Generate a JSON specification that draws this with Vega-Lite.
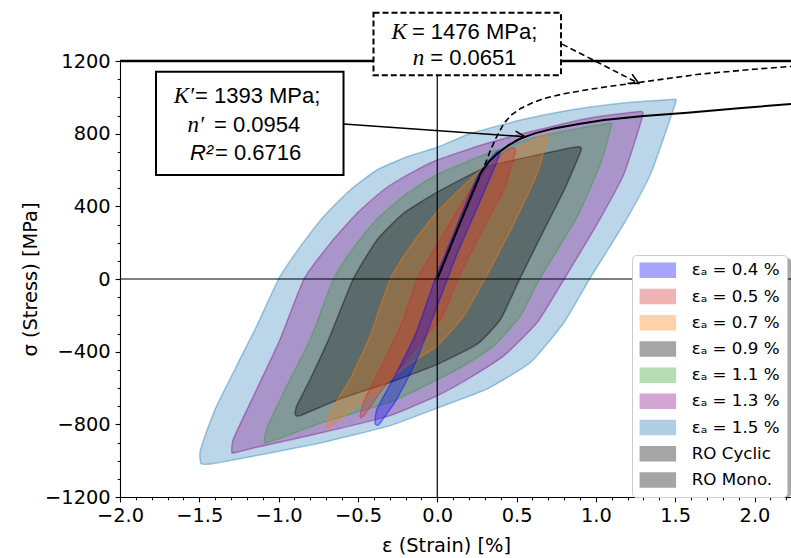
{
  "$schema": "https://vega.github.io/schema/vega-lite/v6.json",
  "width": 671,
  "height": 436,
  "autosize": {"type": "none"},
  "padding": {"left": 120, "top": 61, "right": 0, "bottom": 61},
  "background": "white",
  "datasets": {
    "loops": [
      {"e": "εₐ = 1.5 %", "i": 1, "x": -1.49, "y": -1015},
      {"e": "εₐ = 1.5 %", "i": 2, "x": -1.495, "y": -950},
      {"e": "εₐ = 1.5 %", "i": 3, "x": -1.45, "y": -830},
      {"e": "εₐ = 1.5 %", "i": 4, "x": -1.39, "y": -697},
      {"e": "εₐ = 1.5 %", "i": 5, "x": -1.264, "y": -477},
      {"e": "εₐ = 1.5 %", "i": 6, "x": -1.137, "y": -257},
      {"e": "εₐ = 1.5 %", "i": 7, "x": -1.0, "y": 0},
      {"e": "εₐ = 1.5 %", "i": 8, "x": -0.864, "y": 178},
      {"e": "εₐ = 1.5 %", "i": 9, "x": -0.717, "y": 343},
      {"e": "εₐ = 1.5 %", "i": 10, "x": -0.549, "y": 490},
      {"e": "εₐ = 1.5 %", "i": 11, "x": -0.38, "y": 600},
      {"e": "εₐ = 1.5 %", "i": 12, "x": -0.19, "y": 673},
      {"e": "εₐ = 1.5 %", "i": 13, "x": 0, "y": 725},
      {"e": "εₐ = 1.5 %", "i": 14, "x": 0.21, "y": 801},
      {"e": "εₐ = 1.5 %", "i": 15, "x": 0.526, "y": 875},
      {"e": "εₐ = 1.5 %", "i": 16, "x": 0.84, "y": 930},
      {"e": "εₐ = 1.5 %", "i": 17, "x": 1.157, "y": 967},
      {"e": "εₐ = 1.5 %", "i": 18, "x": 1.48, "y": 988},
      {"e": "εₐ = 1.5 %", "i": 19, "x": 1.50, "y": 965},
      {"e": "εₐ = 1.5 %", "i": 20, "x": 1.346, "y": 581},
      {"e": "εₐ = 1.5 %", "i": 21, "x": 1.178, "y": 306},
      {"e": "εₐ = 1.5 %", "i": 22, "x": 0.96, "y": 0},
      {"e": "εₐ = 1.5 %", "i": 23, "x": 0.80, "y": -238},
      {"e": "εₐ = 1.5 %", "i": 24, "x": 0.589, "y": -458},
      {"e": "εₐ = 1.5 %", "i": 25, "x": 0.315, "y": -605},
      {"e": "εₐ = 1.5 %", "i": 26, "x": 0, "y": -710},
      {"e": "εₐ = 1.5 %", "i": 27, "x": -0.297, "y": -807},
      {"e": "εₐ = 1.5 %", "i": 28, "x": -0.717, "y": -899},
      {"e": "εₐ = 1.5 %", "i": 29, "x": -1.137, "y": -972},
      {"e": "εₐ = 1.5 %", "i": 30, "x": -1.43, "y": -1018},

      {"e": "εₐ = 1.3 %", "i": 1, "x": -1.295, "y": -955},
      {"e": "εₐ = 1.3 %", "i": 2, "x": -1.285, "y": -880},
      {"e": "εₐ = 1.3 %", "i": 3, "x": -1.137, "y": -605},
      {"e": "εₐ = 1.3 %", "i": 4, "x": -0.99, "y": -330},
      {"e": "εₐ = 1.3 %", "i": 5, "x": -0.84, "y": 0},
      {"e": "εₐ = 1.3 %", "i": 6, "x": -0.675, "y": 196},
      {"e": "εₐ = 1.3 %", "i": 7, "x": -0.507, "y": 361},
      {"e": "εₐ = 1.3 %", "i": 8, "x": -0.339, "y": 490},
      {"e": "εₐ = 1.3 %", "i": 9, "x": -0.17, "y": 581},
      {"e": "εₐ = 1.3 %", "i": 10, "x": 0, "y": 655},
      {"e": "εₐ = 1.3 %", "i": 11, "x": 0.315, "y": 747},
      {"e": "εₐ = 1.3 %", "i": 12, "x": 0.63, "y": 820},
      {"e": "εₐ = 1.3 %", "i": 13, "x": 0.946, "y": 884},
      {"e": "εₐ = 1.3 %", "i": 14, "x": 1.262, "y": 921},
      {"e": "εₐ = 1.3 %", "i": 15, "x": 1.295, "y": 900},
      {"e": "εₐ = 1.3 %", "i": 16, "x": 1.178, "y": 581},
      {"e": "εₐ = 1.3 %", "i": 17, "x": 1.01, "y": 306},
      {"e": "εₐ = 1.3 %", "i": 18, "x": 0.80, "y": 0},
      {"e": "εₐ = 1.3 %", "i": 19, "x": 0.631, "y": -238},
      {"e": "εₐ = 1.3 %", "i": 20, "x": 0.42, "y": -422},
      {"e": "εₐ = 1.3 %", "i": 21, "x": 0.21, "y": -541},
      {"e": "εₐ = 1.3 %", "i": 22, "x": 0, "y": -642},
      {"e": "εₐ = 1.3 %", "i": 23, "x": -0.297, "y": -752},
      {"e": "εₐ = 1.3 %", "i": 24, "x": -0.717, "y": -844},
      {"e": "εₐ = 1.3 %", "i": 25, "x": -1.137, "y": -926},
      {"e": "εₐ = 1.3 %", "i": 26, "x": -1.27, "y": -955},

      {"e": "εₐ = 1.1 %", "i": 1, "x": -1.09, "y": -900},
      {"e": "εₐ = 1.1 %", "i": 2, "x": -1.075, "y": -825},
      {"e": "εₐ = 1.1 %", "i": 3, "x": -0.948, "y": -587},
      {"e": "εₐ = 1.1 %", "i": 4, "x": -0.80, "y": -330},
      {"e": "εₐ = 1.1 %", "i": 5, "x": -0.654, "y": 0},
      {"e": "εₐ = 1.1 %", "i": 6, "x": -0.53, "y": 170},
      {"e": "εₐ = 1.1 %", "i": 7, "x": -0.38, "y": 330},
      {"e": "εₐ = 1.1 %", "i": 8, "x": -0.2, "y": 465},
      {"e": "εₐ = 1.1 %", "i": 9, "x": 0, "y": 575},
      {"e": "εₐ = 1.1 %", "i": 10, "x": 0.315, "y": 691},
      {"e": "εₐ = 1.1 %", "i": 11, "x": 0.63, "y": 783},
      {"e": "εₐ = 1.1 %", "i": 12, "x": 0.946, "y": 838},
      {"e": "εₐ = 1.1 %", "i": 13, "x": 1.09, "y": 858},
      {"e": "εₐ = 1.1 %", "i": 14, "x": 1.095, "y": 835},
      {"e": "εₐ = 1.1 %", "i": 15, "x": 1.03, "y": 636},
      {"e": "εₐ = 1.1 %", "i": 16, "x": 0.883, "y": 343},
      {"e": "εₐ = 1.1 %", "i": 17, "x": 0.645, "y": 0},
      {"e": "εₐ = 1.1 %", "i": 18, "x": 0.526, "y": -202},
      {"e": "εₐ = 1.1 %", "i": 19, "x": 0.358, "y": -367},
      {"e": "εₐ = 1.1 %", "i": 20, "x": 0.168, "y": -477},
      {"e": "εₐ = 1.1 %", "i": 21, "x": 0, "y": -555},
      {"e": "εₐ = 1.1 %", "i": 22, "x": -0.297, "y": -678},
      {"e": "εₐ = 1.1 %", "i": 23, "x": -0.717, "y": -788},
      {"e": "εₐ = 1.1 %", "i": 24, "x": -1.0, "y": -880},
      {"e": "εₐ = 1.1 %", "i": 25, "x": -1.075, "y": -900},

      {"e": "εₐ = 0.9 %", "i": 1, "x": -0.896, "y": -745},
      {"e": "εₐ = 0.9 %", "i": 2, "x": -0.885, "y": -697},
      {"e": "εₐ = 0.9 %", "i": 3, "x": -0.80, "y": -550},
      {"e": "εₐ = 0.9 %", "i": 4, "x": -0.675, "y": -312},
      {"e": "εₐ = 0.9 %", "i": 5, "x": -0.53, "y": 0},
      {"e": "εₐ = 0.9 %", "i": 6, "x": -0.38, "y": 215},
      {"e": "εₐ = 0.9 %", "i": 7, "x": -0.213, "y": 361},
      {"e": "εₐ = 0.9 %", "i": 8, "x": 0, "y": 478},
      {"e": "εₐ = 0.9 %", "i": 9, "x": 0.315, "y": 618},
      {"e": "εₐ = 0.9 %", "i": 10, "x": 0.63, "y": 682},
      {"e": "εₐ = 0.9 %", "i": 11, "x": 0.883, "y": 728},
      {"e": "εₐ = 0.9 %", "i": 12, "x": 0.905, "y": 705},
      {"e": "εₐ = 0.9 %", "i": 13, "x": 0.80, "y": 490},
      {"e": "εₐ = 0.9 %", "i": 14, "x": 0.673, "y": 270},
      {"e": "εₐ = 0.9 %", "i": 15, "x": 0.52, "y": 0},
      {"e": "εₐ = 0.9 %", "i": 16, "x": 0.40, "y": -220},
      {"e": "εₐ = 0.9 %", "i": 17, "x": 0.252, "y": -358},
      {"e": "εₐ = 0.9 %", "i": 18, "x": 0, "y": -470},
      {"e": "εₐ = 0.9 %", "i": 19, "x": -0.297, "y": -568},
      {"e": "εₐ = 0.9 %", "i": 20, "x": -0.612, "y": -660},
      {"e": "εₐ = 0.9 %", "i": 21, "x": -0.864, "y": -752},

      {"e": "εₐ = 0.7 %", "i": 1, "x": -0.70, "y": -816},
      {"e": "εₐ = 0.7 %", "i": 2, "x": -0.675, "y": -733},
      {"e": "εₐ = 0.7 %", "i": 3, "x": -0.549, "y": -550},
      {"e": "εₐ = 0.7 %", "i": 4, "x": -0.423, "y": -312},
      {"e": "εₐ = 0.7 %", "i": 5, "x": -0.297, "y": 0},
      {"e": "εₐ = 0.7 %", "i": 6, "x": -0.17, "y": 178},
      {"e": "εₐ = 0.7 %", "i": 7, "x": 0, "y": 370},
      {"e": "εₐ = 0.7 %", "i": 8, "x": 0.273, "y": 600},
      {"e": "εₐ = 0.7 %", "i": 9, "x": 0.526, "y": 728},
      {"e": "εₐ = 0.7 %", "i": 10, "x": 0.673, "y": 792},
      {"e": "εₐ = 0.7 %", "i": 11, "x": 0.705, "y": 783},
      {"e": "εₐ = 0.7 %", "i": 12, "x": 0.694, "y": 765},
      {"e": "εₐ = 0.7 %", "i": 13, "x": 0.63, "y": 581},
      {"e": "εₐ = 0.7 %", "i": 14, "x": 0.484, "y": 306},
      {"e": "εₐ = 0.7 %", "i": 15, "x": 0.30, "y": 0},
      {"e": "εₐ = 0.7 %", "i": 16, "x": 0.168, "y": -202},
      {"e": "εₐ = 0.7 %", "i": 17, "x": 0, "y": -367},
      {"e": "εₐ = 0.7 %", "i": 18, "x": -0.19, "y": -477},
      {"e": "εₐ = 0.7 %", "i": 19, "x": -0.40, "y": -623},
      {"e": "εₐ = 0.7 %", "i": 20, "x": -0.612, "y": -770},
      {"e": "εₐ = 0.7 %", "i": 21, "x": -0.68, "y": -815},

      {"e": "εₐ = 0.5 %", "i": 1, "x": -0.486, "y": -761},
      {"e": "εₐ = 0.5 %", "i": 2, "x": -0.465, "y": -678},
      {"e": "εₐ = 0.5 %", "i": 3, "x": -0.339, "y": -458},
      {"e": "εₐ = 0.5 %", "i": 4, "x": -0.213, "y": -220},
      {"e": "εₐ = 0.5 %", "i": 5, "x": -0.128, "y": 0},
      {"e": "εₐ = 0.5 %", "i": 6, "x": 0, "y": 190},
      {"e": "εₐ = 0.5 %", "i": 7, "x": 0.21, "y": 490},
      {"e": "εₐ = 0.5 %", "i": 8, "x": 0.379, "y": 673},
      {"e": "εₐ = 0.5 %", "i": 9, "x": 0.47, "y": 722},
      {"e": "εₐ = 0.5 %", "i": 10, "x": 0.494, "y": 705},
      {"e": "εₐ = 0.5 %", "i": 11, "x": 0.46, "y": 600},
      {"e": "εₐ = 0.5 %", "i": 12, "x": 0.42, "y": 490},
      {"e": "εₐ = 0.5 %", "i": 13, "x": 0.273, "y": 251},
      {"e": "εₐ = 0.5 %", "i": 14, "x": 0.13, "y": 0},
      {"e": "εₐ = 0.5 %", "i": 15, "x": 0.063, "y": -147},
      {"e": "εₐ = 0.5 %", "i": 16, "x": 0.02, "y": -220},
      {"e": "εₐ = 0.5 %", "i": 17, "x": -0.19, "y": -440},
      {"e": "εₐ = 0.5 %", "i": 18, "x": -0.36, "y": -623},
      {"e": "εₐ = 0.5 %", "i": 19, "x": -0.46, "y": -750},

      {"e": "εₐ = 0.4 %", "i": 1, "x": -0.392, "y": -795},
      {"e": "εₐ = 0.4 %", "i": 2, "x": -0.38, "y": -715},
      {"e": "εₐ = 0.4 %", "i": 3, "x": -0.254, "y": -513},
      {"e": "εₐ = 0.4 %", "i": 4, "x": -0.128, "y": -285},
      {"e": "εₐ = 0.4 %", "i": 5, "x": -0.013, "y": 0},
      {"e": "εₐ = 0.4 %", "i": 6, "x": 0.12, "y": 285},
      {"e": "εₐ = 0.4 %", "i": 7, "x": 0.252, "y": 563},
      {"e": "εₐ = 0.4 %", "i": 8, "x": 0.36, "y": 688},
      {"e": "εₐ = 0.4 %", "i": 9, "x": 0.392, "y": 705},
      {"e": "εₐ = 0.4 %", "i": 10, "x": 0.385, "y": 665},
      {"e": "εₐ = 0.4 %", "i": 11, "x": 0.273, "y": 435},
      {"e": "εₐ = 0.4 %", "i": 12, "x": 0.126, "y": 140},
      {"e": "εₐ = 0.4 %", "i": 13, "x": 0.064, "y": 0},
      {"e": "εₐ = 0.4 %", "i": 14, "x": -0.128, "y": -440},
      {"e": "εₐ = 0.4 %", "i": 15, "x": -0.254, "y": -660},
      {"e": "εₐ = 0.4 %", "i": 16, "x": -0.349, "y": -780},
      {"e": "εₐ = 0.4 %", "i": 17, "x": -0.375, "y": -805}
    ],
    "cyc": [
      {"i": 1, "x": 0, "y": 0},
      {"i": 2, "x": 0.126, "y": 270},
      {"i": 3, "x": 0.273, "y": 581},
      {"i": 4, "x": 0.33, "y": 650},
      {"i": 5, "x": 0.379, "y": 691},
      {"i": 6, "x": 0.45, "y": 737},
      {"i": 7, "x": 0.526, "y": 774},
      {"i": 8, "x": 0.62, "y": 803},
      {"i": 9, "x": 0.736, "y": 829},
      {"i": 10, "x": 0.9, "y": 855},
      {"i": 11, "x": 1.052, "y": 875},
      {"i": 12, "x": 1.3, "y": 897},
      {"i": 13, "x": 1.577, "y": 915},
      {"i": 14, "x": 1.9, "y": 940},
      {"i": 15, "x": 2.23, "y": 963}
    ],
    "mono": [
      {"i": 1, "x": 0, "y": 0},
      {"i": 2, "x": 0.126, "y": 270},
      {"i": 3, "x": 0.28, "y": 590},
      {"i": 4, "x": 0.31, "y": 650},
      {"i": 5, "x": 0.336, "y": 710},
      {"i": 6, "x": 0.37, "y": 775},
      {"i": 7, "x": 0.42, "y": 857},
      {"i": 8, "x": 0.47, "y": 905},
      {"i": 9, "x": 0.526, "y": 939},
      {"i": 10, "x": 0.6, "y": 970},
      {"i": 11, "x": 0.673, "y": 994},
      {"i": 12, "x": 0.8, "y": 1020},
      {"i": 13, "x": 0.946, "y": 1042},
      {"i": 14, "x": 1.1, "y": 1062},
      {"i": 15, "x": 1.27, "y": 1082},
      {"i": 16, "x": 1.66, "y": 1128},
      {"i": 17, "x": 2.0, "y": 1155},
      {"i": 18, "x": 2.23, "y": 1170}
    ],
    "boxes": [
      {"b": "mono", "x": -0.402, "x2": 0.780, "y": 1122, "y2": 1465},
      {"b": "cyc", "x": -1.773, "x2": -0.591, "y": 572, "y2": 1141}
    ],
    "labels": [
      {"f": "serif", "t": "K", "x": -0.191, "y": 1319},
      {"f": "sans", "t": "= 1476 MPa;", "x": -0.160, "y": 1319},
      {"f": "serif", "t": "n", "x": -0.082, "y": 1177},
      {"f": "sans", "t": "= 0.0651", "x": -0.044, "y": 1177},
      {"f": "serif", "t": "K′", "x": -1.533, "y": 968},
      {"f": "sans", "t": "= 1393 MPa;", "x": -1.527, "y": 968},
      {"f": "serif", "t": "n′", "x": -1.470, "y": 810},
      {"f": "sans", "t": "= 0.0954", "x": -1.407, "y": 810},
      {"f": "sansit", "t": "R²", "x": -1.413, "y": 655},
      {"f": "sans", "t": "= 0.6716", "x": -1.401, "y": 655}
    ],
    "arrows": [
      {"k": "cyc", "x": -0.591, "y": 853, "x2": 0.555, "y2": 783},
      {"k": "mono", "x": 0.787, "y": 1293, "x2": 1.270, "y2": 1077}
    ],
    "shadow": [
      {"x": 1.249, "x2": 2.233, "y": 115, "y2": -1200}
    ]
  },
  "resolve": {"axis": {"x": "independent", "y": "independent"}},
  "layer": [
    {
      "data": {"name": "shadow"},
      "mark": {"type": "rect", "fill": "#aaaaaa", "cornerRadius": 4},
      "encoding": {
        "x": {"field": "x", "type": "quantitative", "axis": null},
        "x2": {"field": "x2"},
        "y": {"field": "y", "type": "quantitative", "axis": null},
        "y2": {"field": "y2"}
      }
    },
    {
      "data": {"name": "loops"},
      "mark": {"type": "line", "interpolate": "cardinal-closed", "tension": 0.5, "fillOpacity": 0.3, "strokeOpacity": 0.4, "strokeWidth": 1.5},
      "encoding": {
        "x": {"field": "x", "type": "quantitative",
          "scale": {"domain": [-2, 2.23], "nice": false, "zero": false},
          "axis": {"orient": "bottom", "values": [-2, -1.5, -1, -0.5, 0, 0.5, 1, 1.5, 2], "format": ".1f", "title": "ε (Strain) [%]", "titleX": 326, "titleY": 48, "titleBaseline": "middle", "titleAlign": "center"}},
        "y": {"field": "y", "type": "quantitative",
          "scale": {"domain": [-1200, 1200], "nice": false, "zero": false},
          "axis": {"orient": "left", "values": [-1200, -800, -400, 0, 400, 800, 1200], "format": "d", "title": "σ (Stress) [MPa]", "titleX": -90, "titleY": 218, "titleAngle": -90, "titleAlign": "center", "titleBaseline": "middle"}},
        "color": {"field": "e", "type": "nominal",
          "scale": {"domain": ["εₐ = 0.4 %", "εₐ = 0.5 %", "εₐ = 0.7 %", "εₐ = 0.9 %", "εₐ = 1.1 %", "εₐ = 1.3 %", "εₐ = 1.5 %", "RO Cyclic", "RO Mono."],
                    "range": ["#0000ff", "#d62728", "#ff7f0e", "#000000", "#2ca02c", "#800080", "#1f77b4", "#000000", "#000000"]},
          "legend": {
            "orient": "none", "legendX": 512, "legendY": 194,
            "title": null,
            "fillColor": "white", "strokeColor": "#cccccc", "cornerRadius": 4,
            "padding": 7,
            "labelFont": "DejaVu Sans", "labelFontSize": 16.7, "labelColor": "black", "labelLimit": 300,
            "symbolType": "M-1,-1H4V1H-1Z", "symbolSize": 196,
            "symbolStrokeWidth": 1.5, "symbolOpacity": 0.35,
            "labelOffset": 36, "rowPadding": 5.2,
            "encode": {"symbols": {
              "shape": {"value": {"expr": "(datum.value == 'RO Cyclic' || datum.value == 'RO Mono.') ? 'M-1,0H4' : 'M-1,-1H4V1H-1Z'"}},
              "fill": {"value": {"expr": "datum.value == 'εₐ = 0.4 %' ? 'rgba(0,0,255,0.3)' : datum.value == 'εₐ = 0.5 %' ? 'rgba(214,39,40,0.3)' : datum.value == 'εₐ = 0.7 %' ? 'rgba(255,127,14,0.3)' : datum.value == 'εₐ = 0.9 %' ? 'rgba(0,0,0,0.3)' : datum.value == 'εₐ = 1.1 %' ? 'rgba(44,160,44,0.3)' : datum.value == 'εₐ = 1.3 %' ? 'rgba(128,0,128,0.3)' : datum.value == 'εₐ = 1.5 %' ? 'rgba(31,119,180,0.3)' : 'transparent'"}},
              "fillOpacity": {"value": 1},
              "stroke": {"value": {"expr": "datum.value == 'εₐ = 0.4 %' ? 'rgba(0,0,255,0.5)' : datum.value == 'εₐ = 0.5 %' ? 'rgba(214,39,40,0.5)' : datum.value == 'εₐ = 0.7 %' ? 'rgba(255,127,14,0.5)' : datum.value == 'εₐ = 0.9 %' ? 'rgba(0,0,0,0.5)' : datum.value == 'εₐ = 1.1 %' ? 'rgba(44,160,44,0.5)' : datum.value == 'εₐ = 1.3 %' ? 'rgba(128,0,128,0.5)' : datum.value == 'εₐ = 1.5 %' ? 'rgba(31,119,180,0.5)' : 'black'"}},
              "strokeOpacity": {"value": 1},
              "strokeWidth": {"value": {"expr": "(datum.value == 'RO Cyclic' || datum.value == 'RO Mono.') ? 2 : 1.5"}},
              "strokeDash": {"value": {"expr": "datum.value == 'RO Mono.' ? [4.5,2.5] : [1,0]"}},
              "opacity": {"value": 1}
            }}
          }},
        "fill": {"field": "e", "type": "nominal",
          "scale": {"domain": ["εₐ = 0.4 %", "εₐ = 0.5 %", "εₐ = 0.7 %", "εₐ = 0.9 %", "εₐ = 1.1 %", "εₐ = 1.3 %", "εₐ = 1.5 %", "RO Cyclic", "RO Mono."],
                    "range": ["#0000ff", "#d62728", "#ff7f0e", "#000000", "#2ca02c", "#800080", "#1f77b4", "#000000", "#000000"]},
          "legend": null},
        "order": {"field": "i", "type": "quantitative"}
      }
    },
    {
      "data": {"values": [{}]},
      "mark": {"type": "rule", "color": "black", "strokeWidth": 1.2},
      "encoding": {"y": {"datum": 0, "type": "quantitative", "axis": null}}
    },
    {
      "data": {"values": [{}]},
      "mark": {"type": "rule", "color": "black", "strokeWidth": 1.2},
      "encoding": {"x": {"datum": 0, "type": "quantitative", "axis": null}}
    },
    {
      "data": {"values": [{}]},
      "mark": {"type": "rule", "color": "black", "strokeWidth": 2.6},
      "encoding": {"y": {"datum": 1200, "type": "quantitative", "axis": null}}
    },
    {
      "data": {"name": "cyc"},
      "mark": {"type": "line", "color": "black", "strokeWidth": 2},
      "encoding": {
        "x": {"field": "x", "type": "quantitative",
          "axis": {"orient": "bottom", "values": [-1.9, -1.8, -1.7, -1.6, -1.4, -1.3, -1.2, -1.1, -0.9, -0.8, -0.7, -0.6, -0.4, -0.3, -0.2, -0.1, 0.1, 0.2, 0.3, 0.4, 0.6, 0.7, 0.8, 0.9, 1.1, 1.2, 1.3, 1.4, 1.6, 1.7, 1.8, 1.9, 2.1, 2.2], "labels": false, "tickSize": 2.8, "domain": false, "title": null}},
        "y": {"field": "y", "type": "quantitative",
          "axis": {"orient": "left", "values": [-1100, -1000, -900, -700, -600, -500, -300, -200, -100, 100, 200, 300, 500, 600, 700, 900, 1000, 1100], "labels": false, "tickSize": 2.8, "domain": false, "title": null}},
        "order": {"field": "i", "type": "quantitative"}
      }
    },
    {
      "data": {"name": "mono"},
      "mark": {"type": "line", "color": "black", "strokeWidth": 1.6, "strokeDash": [6, 3.5]},
      "encoding": {
        "x": {"field": "x", "type": "quantitative", "axis": null},
        "y": {"field": "y", "type": "quantitative", "axis": null},
        "order": {"field": "i", "type": "quantitative"}
      }
    },
    {
      "data": {"name": "arrows"},
      "transform": [{"filter": "datum.k === 'cyc'"}],
      "mark": {"type": "rule", "color": "black", "strokeWidth": 1.6},
      "encoding": {
        "x": {"field": "x", "type": "quantitative", "axis": null},
        "y": {"field": "y", "type": "quantitative", "axis": null},
        "x2": {"field": "x2"},
        "y2": {"field": "y2"}
      }
    },
    {
      "data": {"name": "arrows"},
      "transform": [{"filter": "datum.k === 'mono'"}],
      "mark": {"type": "rule", "color": "black", "strokeWidth": 1.6, "strokeDash": [6, 3.5]},
      "encoding": {
        "x": {"field": "x", "type": "quantitative", "axis": null},
        "y": {"field": "y", "type": "quantitative", "axis": null},
        "x2": {"field": "x2"},
        "y2": {"field": "y2"}
      }
    },
    {
      "data": {"name": "arrows"},
      "transform": [{"filter": "datum.k === 'cyc'"}],
      "mark": {"type": "point", "shape": "M-1,-0.5L0,0L-1,0.5", "filled": false, "color": "black", "strokeWidth": 1.6, "size": 400, "angle": 4, "opacity": 1},
      "encoding": {
        "x": {"field": "x2", "type": "quantitative", "axis": null},
        "y": {"field": "y2", "type": "quantitative", "axis": null}
      }
    },
    {
      "data": {"name": "arrows"},
      "transform": [{"filter": "datum.k === 'mono'"}],
      "mark": {"type": "point", "shape": "M-1,-0.5L0,0L-1,0.5", "filled": false, "color": "black", "strokeWidth": 1.6, "size": 400, "angle": 27, "opacity": 1},
      "encoding": {
        "x": {"field": "x2", "type": "quantitative", "axis": null},
        "y": {"field": "y2", "type": "quantitative", "axis": null}
      }
    },
    {
      "data": {"name": "boxes"},
      "transform": [{"filter": "datum.b === 'mono'"}],
      "mark": {"type": "rect", "fill": "white", "stroke": "black", "strokeWidth": 2, "strokeDash": [6, 3]},
      "encoding": {
        "x": {"field": "x", "type": "quantitative", "axis": null},
        "x2": {"field": "x2"},
        "y": {"field": "y", "type": "quantitative", "axis": null},
        "y2": {"field": "y2"}
      }
    },
    {
      "data": {"name": "boxes"},
      "transform": [{"filter": "datum.b === 'cyc'"}],
      "mark": {"type": "rect", "fill": "white", "stroke": "black", "strokeWidth": 2},
      "encoding": {
        "x": {"field": "x", "type": "quantitative", "axis": null},
        "x2": {"field": "x2"},
        "y": {"field": "y", "type": "quantitative", "axis": null},
        "y2": {"field": "y2"}
      }
    },
    {
      "data": {"name": "labels"},
      "transform": [{"filter": "datum.f === 'serif'"}],
      "mark": {"type": "text", "font": "Liberation Serif", "fontStyle": "italic", "fontSize": 23, "align": "right", "baseline": "alphabetic", "color": "black"},
      "encoding": {
        "x": {"field": "x", "type": "quantitative", "axis": null},
        "y": {"field": "y", "type": "quantitative", "axis": null},
        "text": {"field": "t"}
      }
    },
    {
      "data": {"name": "labels"},
      "transform": [{"filter": "datum.f === 'sansit'"}],
      "mark": {"type": "text", "font": "Liberation Sans", "fontStyle": "italic", "fontSize": 22, "align": "right", "baseline": "alphabetic", "color": "black"},
      "encoding": {
        "x": {"field": "x", "type": "quantitative", "axis": null},
        "y": {"field": "y", "type": "quantitative", "axis": null},
        "text": {"field": "t"}
      }
    },
    {
      "data": {"name": "labels"},
      "transform": [{"filter": "datum.f === 'sans'"}],
      "mark": {"type": "text", "font": "Liberation Sans", "fontSize": 22, "align": "left", "baseline": "alphabetic", "color": "black"},
      "encoding": {
        "x": {"field": "x", "type": "quantitative", "axis": null},
        "y": {"field": "y", "type": "quantitative", "axis": null},
        "text": {"field": "t"}
      }
    }
  ],
  "config": {
    "view": {"stroke": null},
    "axis": {
      "labelFont": "DejaVu Sans", "labelFontSize": 19.4, "labelColor": "black",
      "titleFont": "DejaVu Sans", "titleFontSize": 19.4, "titleFontWeight": "normal", "titleColor": "black",
      "tickColor": "black", "domainColor": "black", "tickWidth": 1.1, "domainWidth": 1.1,
      "tickSize": 4.9, "labelPadding": 4.9, "grid": false,
      "labelFlush": false, "labelOverlap": false, "labelBound": false
    }
  }
}
